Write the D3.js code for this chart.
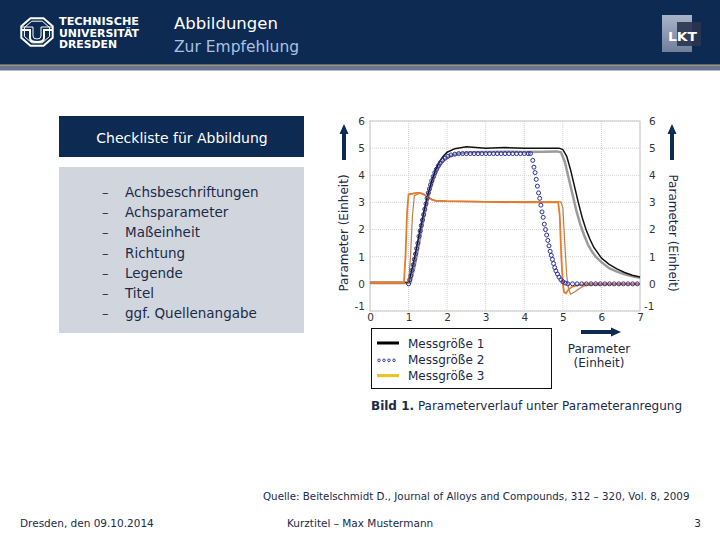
<!DOCTYPE html>
<html><head><meta charset="utf-8">
<script src="https://cdn.jsdelivr.net/npm/d3@7/dist/d3.min.js"></script>
<style>body{margin:0;background:#fff}svg{display:block}</style>
</head><body>
<script>
// ---- data ----
const checklist = ["Achsbeschriftungen","Achsparameter","Maßeinheit","Richtung","Legende","Titel","ggf. Quellenangabe"];
const xTicks = [0,1,2,3,4,5,6,7];
const yTicks = [-1,0,1,2,3,4,5,6];
const legendLabels = ["Messgröße 1","Messgröße 2","Messgröße 3"];

const m1x = [0,0.9,1.0,1.1,1.2,1.3,1.4,1.5,1.6,1.7,1.8,1.9,2.0,2.2,2.5,3.0,3.5,4.0,4.5,4.9,5.0,5.1,5.2,5.3,5.4,5.5,5.6,5.7,5.8,5.9,6.0,6.2,6.4,6.6,6.8,7.0];
const m1y = [0.05,0.05,0.05,0.6,1.3,2.0,2.7,3.3,3.8,4.2,4.5,4.7,4.85,4.98,5.05,5.0,5.02,5.0,5.0,5.0,4.95,4.7,4.2,3.6,3.0,2.45,2.0,1.65,1.35,1.15,0.95,0.72,0.55,0.42,0.32,0.25];
const m1bx = [0,0.95,1.05,1.15,1.25,1.35,1.45,1.55,1.65,1.75,1.85,1.95,2.1,2.3,2.6,3.0,3.5,4.0,4.5,4.85,4.95,5.05,5.15,5.25,5.35,5.45,5.55,5.65,5.75,5.85,6.0,6.2,6.4,6.6,6.8,7.0];
const m1by = [0.03,0.03,0.05,0.6,1.3,2.1,2.8,3.4,3.85,4.2,4.45,4.6,4.72,4.8,4.85,4.86,4.87,4.86,4.87,4.88,4.85,4.5,3.9,3.3,2.7,2.2,1.8,1.45,1.2,1.0,0.8,0.58,0.45,0.35,0.28,0.22];
const m2x = [1.0,1.03,1.06,1.09,1.12,1.15,1.18,1.21,1.24,1.27,1.30,1.33,1.36,1.39,1.42,1.45,1.48,1.51,1.54,1.57,1.60,1.64,1.68,1.72,1.77,1.82,1.88,1.95,2.02,2.1,2.2,2.3,2.4,2.5,2.6,2.7,2.8,2.9,3.0,3.1,3.2,3.3,3.4,3.5,3.6,3.7,3.8,3.9,4.0,4.1,4.16,4.22,4.25,4.28,4.31,4.34,4.37,4.40,4.43,4.46,4.49,4.52,4.55,4.58,4.61,4.64,4.67,4.70,4.73,4.76,4.79,4.82,4.86,4.90,4.95,5.0,5.06,5.13,5.25,5.37,5.49,5.61,5.73,5.85,5.97,6.09,6.21,6.33,6.45,6.57,6.69,6.81,6.93];
const m2y = [0,0.15,0.3,0.5,0.7,0.9,1.1,1.3,1.5,1.75,1.95,2.15,2.35,2.55,2.75,2.95,3.15,3.35,3.5,3.65,3.8,3.95,4.1,4.22,4.35,4.45,4.55,4.63,4.7,4.75,4.78,4.8,4.8,4.8,4.8,4.8,4.8,4.8,4.8,4.8,4.8,4.8,4.8,4.8,4.8,4.8,4.8,4.8,4.8,4.8,4.8,4.55,4.3,4.1,3.85,3.6,3.35,3.15,2.9,2.65,2.45,2.2,2.0,1.8,1.6,1.4,1.2,1.05,0.9,0.75,0.6,0.48,0.36,0.25,0.15,0.08,0.03,0.0,0,0,0,0,0,0,0,0,0,0,0,0,0,0,0];
const m3x = [0,0.88,0.92,0.96,1.0,1.1,1.2,1.3,1.4,1.5,1.6,1.7,2.0,3.0,4.0,4.88,4.92,4.96,5.0,5.03,5.08,5.15,5.25,5.4,5.6,7.0];
const m3y = [0.05,0.05,1.0,2.6,3.3,3.32,3.35,3.35,3.3,3.2,3.1,3.07,3.05,3.02,3.0,3.0,2.5,1.0,0.0,-0.3,-0.35,-0.2,-0.1,-0.05,0.0,0.0];
const m3bx = [0,1.0,1.05,1.1,1.15,1.3,1.5,1.7,3.0,4.95,5.0,5.05,5.1,5.15,5.2,5.3,5.45,5.6,7.0];
const m3by = [0.02,0.02,1.0,2.5,3.25,3.35,3.2,3.05,3.03,3.02,2.8,1.5,0.3,-0.2,-0.38,-0.3,-0.15,-0.05,0.0];

// ---- drawing ----
const W=720,H=540, navy="#0c2a52";
const svg=d3.select("body").append("svg").attr("width",W).attr("height",H)
  .style("font-family","'DejaVu Sans',Verdana,sans-serif");

// header
svg.append("rect").attr("width",W).attr("height",64).attr("fill",navy);
svg.append("rect").attr("y",64).attr("width",W).attr("height",1.5).attr("fill","#6b6a45");
svg.append("rect").attr("y",65.5).attr("width",W).attr("height",5).attr("fill","#6c7393");

// TU logo
const lg=svg.append("g").attr("transform","translate(37,32)").attr("fill","none").attr("stroke","#fff");
const oct=d3.range(8).map(i=>{const a=Math.PI/8+i*Math.PI/4;return [17*Math.cos(a),15*Math.sin(a)];});
lg.append("polygon").attr("points",oct.map(p=>p.join(",")).join(" ")).attr("stroke-width",2);
lg.append("polygon").attr("points",oct.map(p=>[p[0]*0.8,p[1]*0.78].join(",")).join(" ")).attr("stroke-width",1);
lg.append("path").attr("d","M-15,-2 H-7 V6 Q-7,10 0,10 Q7,10 7,6 V-2 H15").attr("stroke-width",2);
lg.append("path").attr("d","M-15,-5 H-4 V4 Q-4,7 0,7 Q4,7 4,4 V-5 H15").attr("stroke-width",1);
const tl=svg.append("g").attr("fill","#fff").attr("font-weight","bold").attr("font-size",11);
["TECHNISCHE","UNIVERSITÄT","DRESDEN"].forEach((t,i)=>tl.append("text").attr("x",59).attr("y",25+i*11.5).attr("textLength",i==2?58:80).attr("lengthAdjust","spacingAndGlyphs").text(t));
svg.append("text").attr("x",174).attr("y",29).attr("fill","#fff").attr("font-size",16.5).text("Abbildungen");
svg.append("text").attr("x",174).attr("y",52).attr("fill","#a9c2e4").attr("font-size",15.5).text("Zur Empfehlung");

// LKT logo
const gr=svg.append("defs").append("linearGradient").attr("id","lk").attr("x1",0).attr("y1",0).attr("x2",0).attr("y2",1);
gr.append("stop").attr("offset",0).attr("stop-color","#a9b4c8");
gr.append("stop").attr("offset",1).attr("stop-color","#6f7f9c");
svg.append("rect").attr("x",662).attr("y",15).attr("width",30).attr("height",37).attr("fill","url(#lk)");
svg.append("rect").attr("x",677).attr("y",22).attr("width",24).attr("height",24).attr("fill","#2a3550").attr("opacity",0.9);
svg.append("text").attr("x",668).attr("y",41).attr("fill","#fff").attr("font-weight","bold").attr("font-size",13).attr("textLength",29).attr("lengthAdjust","spacingAndGlyphs").text("LKT");

// checklist
svg.append("rect").attr("x",59).attr("y",116).attr("width",245).attr("height",41).attr("fill",navy);
svg.append("text").attr("x",182).attr("y",143).attr("text-anchor","middle").attr("fill","#fff").attr("font-size",14).text("Checkliste für Abbildung");
svg.append("rect").attr("x",59).attr("y",167).attr("width",245).attr("height",166).attr("fill","#d1d6de");
checklist.forEach((t,i)=>{
  const y=197+i*20.2;
  svg.append("text").attr("x",102).attr("y",y).attr("fill","#1c2a48").attr("font-size",13).text("–");
  svg.append("text").attr("x",125).attr("y",y).attr("fill","#1c2a48").attr("font-size",13.5).text(t);
});

// chart
const x=d3.scaleLinear().domain([0,7]).range([370,640]);
const y=d3.scaleLinear().domain([-1,6]).range([311,121]);
const ch=svg.append("g");
ch.selectAll(".gx").data(xTicks).join("line").attr("x1",d=>x(d)).attr("x2",d=>x(d)).attr("y1",y(6)).attr("y2",y(-1))
  .attr("stroke","#d4d4d4").attr("stroke-dasharray","1,1");
ch.selectAll(".gy").data(yTicks).join("line").attr("x1",x(0)).attr("x2",x(7)).attr("y1",d=>y(d)).attr("y2",d=>y(d))
  .attr("stroke","#d4d4d4").attr("stroke-dasharray","1,1");
ch.append("rect").attr("x",x(0)).attr("y",y(6)).attr("width",x(7)-x(0)).attr("height",y(-1)-y(6)).attr("fill","none").attr("stroke","#c8c8c8");

const fmt=d=>String(d);
const ax=ch.append("g").attr("transform",`translate(0,${y(-1)})`).call(d3.axisBottom(x).tickValues(xTicks).tickFormat(fmt).tickSize(0).tickPadding(3));
const al=ch.append("g").attr("transform",`translate(${x(0)},0)`).call(d3.axisLeft(y).tickValues(yTicks).tickFormat(fmt).tickSize(0).tickPadding(5));
const ar=ch.append("g").attr("transform",`translate(${x(7)},0)`).call(d3.axisRight(y).tickValues(yTicks).tickFormat(fmt).tickSize(0).tickPadding(9));
[ax,al,ar].forEach(g=>{g.select(".domain").remove();g.selectAll("text").attr("fill","#333").attr("font-size",10.5).attr("font-family","'DejaVu Sans',Verdana,sans-serif");});
al.selectAll("text").filter(d=>d===-1).attr("dy","-0.1em");
ar.selectAll("text").filter(d=>d===-1).attr("dy","-0.1em").attr("x",4);

const line=d3.line().x(d=>x(d[0])).y(d=>y(d[1]));
const z=(a,b)=>a.map((v,i)=>[v,b[i]]);
ch.append("path").datum(z(m1bx,m1by)).attr("d",line).attr("fill","none").attr("stroke","#8a8a8a").attr("stroke-width",2.5).attr("opacity",0.85);
ch.append("path").datum(z(m1x,m1y)).attr("d",line).attr("fill","none").attr("stroke","#111").attr("stroke-width",1.5);
ch.append("path").datum(z(m3bx,m3by)).attr("d",line).attr("fill","none").attr("stroke","#b9804a").attr("stroke-width",1.2);
ch.append("path").datum(z(m3x,m3y)).attr("d",line).attr("fill","none").attr("stroke","#e87b2a").attr("stroke-width",1.8);
ch.selectAll(".c").data(z(m2x,m2y)).join("circle").attr("cx",d=>x(d[0])).attr("cy",d=>y(d[1])).attr("r",2)
  .attr("fill","none").attr("stroke","#2b2f9a").attr("stroke-width",1);

// axis labels & arrows
const arrowY=(cx)=>{
  svg.append("rect").attr("x",cx-2).attr("y",133).attr("width",4).attr("height",27).attr("fill",navy);
  svg.append("path").attr("d",`M${cx-4.5},134 L${cx+4.5},134 L${cx},124 Z`).attr("fill",navy);
};
arrowY(344); arrowY(672);
svg.append("text").attr("transform","translate(348,233) rotate(-90)").attr("text-anchor","middle").attr("fill","#1c2a48").attr("font-size",12).text("Parameter (Einheit)");
svg.append("text").attr("transform","translate(669,233) rotate(90)").attr("text-anchor","middle").attr("fill","#1c2a48").attr("font-size",12).text("Parameter (Einheit)");
svg.append("rect").attr("x",581).attr("y",330).attr("width",32).attr("height",4).attr("fill",navy);
svg.append("path").attr("d","M611,327.5 L611,336.5 L621,332 Z").attr("fill",navy);
svg.append("text").attr("x",599).attr("y",353).attr("text-anchor","middle").attr("fill","#1c2a48").attr("font-size",12).text("Parameter");
svg.append("text").attr("x",599).attr("y",367).attr("text-anchor","middle").attr("fill","#1c2a48").attr("font-size",12).text("(Einheit)");

// legend
svg.append("rect").attr("x",371.5).attr("y",328.5).attr("width",180).attr("height",60).attr("fill","#fff").attr("stroke","#111");
legendLabels.forEach((t,i)=>{
  const ly=343+i*16.3;
  if(i===0) svg.append("line").attr("x1",377).attr("x2",399).attr("y1",ly).attr("y2",ly).attr("stroke","#000").attr("stroke-width",3);
  if(i===1) [379,384,389,394].forEach(cx=>svg.append("circle").attr("cx",cx).attr("cy",ly+1).attr("r",1.3).attr("fill","none").attr("stroke","#2b2f9a").attr("stroke-width",0.9));
  if(i===2) svg.append("line").attr("x1",377).attr("x2",399).attr("y1",ly).attr("y2",ly).attr("stroke","#f0c020").attr("stroke-width",3);
  svg.append("text").attr("x",408).attr("y",ly+4.5).attr("fill","#1c2a48").attr("font-size",12).text(t);
});

// caption
const cap=svg.append("text").attr("x",371).attr("y",410).attr("fill","#1c2a48").attr("font-size",12);
cap.append("tspan").attr("font-weight","bold").text("Bild 1.");
cap.append("tspan").text(" Parameterverlauf unter Parameteranregung");

// footer
svg.append("text").attr("x",263).attr("y",500).attr("fill","#1c2a48").attr("font-size",10.3).text("Quelle: Beitelschmidt D., Journal of Alloys and Compounds, 312 – 320, Vol. 8, 2009");
svg.append("text").attr("x",20).attr("y",527).attr("fill","#1c2a48").attr("font-size",10.5).text("Dresden, den 09.10.2014");
svg.append("text").attr("x",287).attr("y",527).attr("fill","#1c2a48").attr("font-size",10.5).text("Kurztitel – Max Mustermann");
svg.append("text").attr("x",701).attr("y",527).attr("text-anchor","end").attr("fill","#1c2a48").attr("font-size",10.5).text("3");
</script>
</body></html>
